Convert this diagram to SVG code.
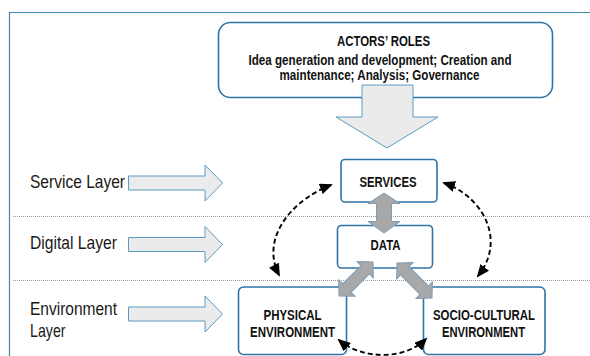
<svg xmlns="http://www.w3.org/2000/svg" width="590" height="356" viewBox="0 0 590 356">
  <defs>
    <style>
      .frame { fill: none; stroke: #3f88b2; stroke-width: 1.2; }
      .sep { fill: none; stroke: #9a9a9a; stroke-width: 1; stroke-dasharray: 1 1; }
      .box { fill: #ffffff; stroke: #2f74a6; stroke-width: 1.6; }
      .block { fill: #ebebeb; stroke: #5b9bc2; stroke-width: 1; }
      .link { fill: #a8a8a8; stroke: #7d9cb6; stroke-width: 1; }
      .dash { fill: none; stroke: #000000; stroke-width: 1.9; stroke-dasharray: 5 3; marker-start: url(#head); marker-end: url(#head); }
      .lbl { font-family: "Liberation Sans Narrow", "Liberation Sans", Arial, sans-serif; font-size: 18.5px; fill: #1a1a1a; }
      .nt { font-family: "Liberation Sans Narrow", "Liberation Sans", Arial, sans-serif; font-size: 14px; font-weight: bold; fill: #111111; text-anchor: middle; }
    </style>
    <marker id="head" viewBox="0 0 13 11" refX="11" refY="5.5" markerWidth="13" markerHeight="11" markerUnits="userSpaceOnUse" orient="auto-start-reverse">
      <path d="M0,0 L13,5.5 L0,11 z" fill="#000000"/>
    </marker>
  </defs>

  <!-- outer frame -->
  <path class="frame" d="M9.5,356 V12.5 H590"/>

  <!-- layer separators -->
  <line class="sep" x1="13" y1="216.5" x2="590" y2="216.5"/>
  <line class="sep" x1="13" y1="280.5" x2="590" y2="280.5"/>

  <!-- layer labels with block arrows -->
  <g id="service-layer">
    <text class="lbl" x="30" y="187.5" textLength="95" lengthAdjust="spacingAndGlyphs">Service Layer</text>
    <polygon class="block" points="128.5,176 205,176 205,165 222.5,183 205,201 205,190 128.5,190"/>
  </g>
  <g id="digital-layer">
    <text class="lbl" x="30" y="249" textLength="87" lengthAdjust="spacingAndGlyphs">Digital Layer</text>
    <polygon class="block" points="128.5,237.5 205,237.5 205,226.5 222.5,244.5 205,262.5 205,251.5 128.5,251.5"/>
  </g>
  <g id="environment-layer">
    <text class="lbl" x="30" y="314.5" textLength="87" lengthAdjust="spacingAndGlyphs">Environment</text>
    <text class="lbl" x="30" y="336.5" textLength="35.5" lengthAdjust="spacingAndGlyphs">Layer</text>
    <polygon class="block" points="128.5,307 205,307 205,296 222.5,314 205,332 205,321 128.5,321"/>
  </g>

  <!-- actors' roles -->
  <g id="actors-roles">
    <rect class="box" x="218.5" y="22.5" width="334" height="75" rx="12"/>
    <text class="nt" x="383.5" y="45.5" textLength="93" lengthAdjust="spacingAndGlyphs">ACTORS’ ROLES</text>
    <text class="nt" x="380" y="64.5" textLength="263" lengthAdjust="spacingAndGlyphs">Idea generation and development; Creation and</text>
    <text class="nt" x="379.5" y="79.5" textLength="200" lengthAdjust="spacingAndGlyphs">maintenance; Analysis; Governance</text>
  </g>
  <polygon class="block" points="362,85 413,85 413,117 438,117 387,148 336,117 362,117"/>

  <!-- nodes -->
  <g id="services">
    <rect class="box" x="341" y="159.5" width="96" height="42.5" rx="4"/>
    <text class="nt" x="388" y="186.5" textLength="57" lengthAdjust="spacingAndGlyphs">SERVICES</text>
  </g>
  <g id="data">
    <rect class="box" x="337.5" y="225.5" width="95" height="42.5" rx="4"/>
    <text class="nt" x="385.5" y="250" textLength="30" lengthAdjust="spacingAndGlyphs">DATA</text>
  </g>
  <g id="physical-environment">
    <rect class="box" x="238.5" y="287" width="108" height="67.5" rx="5"/>
    <text class="nt" x="292.5" y="320" textLength="58" lengthAdjust="spacingAndGlyphs">PHYSICAL</text>
    <text class="nt" x="292.5" y="336.5" textLength="85" lengthAdjust="spacingAndGlyphs">ENVIRONMENT</text>
  </g>
  <g id="socio-cultural-environment">
    <rect class="box" x="423.5" y="287" width="121.5" height="67.5" rx="5"/>
    <text class="nt" x="484" y="320" textLength="102" lengthAdjust="spacingAndGlyphs">SOCIO-CULTURAL</text>
    <text class="nt" x="483.5" y="336.5" textLength="83" lengthAdjust="spacingAndGlyphs">ENVIRONMENT</text>
  </g>

  <!-- connectors -->
  <g id="connectors">
    <polygon class="link" points="384,193 400,203.5 391.5,203.5 391.5,221.5 400,221.5 384,233 368,221.5 376.5,221.5 376.5,203.5 368,203.5"/>
    <polygon class="link" transform="translate(373,262) rotate(135)" points="0,0 11,-11.5 11,-6 37,-6 37,-11.5 48,0 37,11.5 37,6 11,6 11,11.5"/>
    <polygon class="link" transform="translate(397,263) rotate(45)" points="0,0 11,-11.5 11,-6 38.5,-6 38.5,-11.5 49.5,0 38.5,11.5 38.5,6 11,6 11,11.5"/>
    <path class="dash" d="M331,185 C292,200 260,238 279,275"/>
    <path class="dash" d="M444,183 C480,195 508,238 478,276"/>
    <path class="dash" d="M339,340 C362,360 405,360 426,339"/>
  </g>
</svg>
